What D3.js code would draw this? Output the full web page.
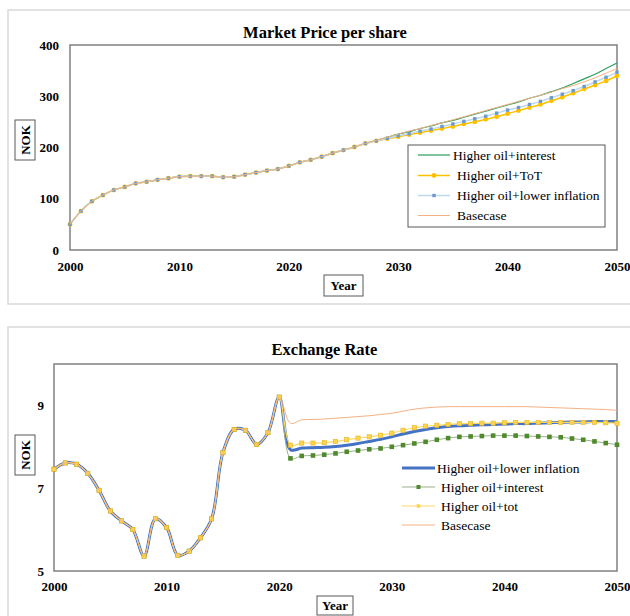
<!DOCTYPE html>
<html><head><meta charset="utf-8">
<script src="https://cdn.jsdelivr.net/npm/d3@7"></script>
<style>
body{margin:0;background:#fff;}
svg{display:block;}
svg text{font-family:"Liberation Serif","Times New Roman",Times,Tinos,"DejaVu Serif",serif !important;}
</style></head>
<body><svg id="c" width="630" height="616"></svg>
<script>
const years = [2000,2001,2002,2003,2004,2005,2006,2007,2008,2009,2010,2011,2012,2013,2014,2015,2016,2017,2018,2019,2020,2021,2022,2023,2024,2025,2026,2027,2028,2029,2030,2031,2032,2033,2034,2035,2036,2037,2038,2039,2040,2041,2042,2043,2044,2045,2046,2047,2048,2049,2050];
const xTicks = [2000,2010,2020,2030,2040,2050];

// Market price per share (NOK)
const priceHistory = [50,76,95,107,117,123,130,133,137,140,143,144,144,144,142,143,147,151,155,158,164,171,176,182,189,195,201,208];
const priceInterest = [214,220,226,231,237,242,248,253,259,265,271,277,283,289,296,302,309,316,325,334,343,354,365];
const priceToT = [213,217,221,225,229,233,237,241,246,250,255,260,266,272,278,284,291,298,306,314,322,330,340];
const priceLowerInfl = [213,218,223,227,232,236,241,246,251,256,261,267,273,278,284,290,297,304,311,319,328,337,347];
const priceBase = [214,220,226,232,237,243,248,254,260,266,272,278,284,290,296,302,308,315,321,328,336,345,354];
const priceTicks = [0,100,200,300,400];

// Exchange rate (NOK)
const fxHistory = [7.46,7.61,7.58,7.36,6.95,6.45,6.21,6.00,5.36,6.26,6.05,5.38,5.48,5.80,6.26,7.86,8.42,8.40,8.06,8.34,9.20];
const fxLowerInfl = [7.93,7.97,7.98,7.99,8.01,8.04,8.08,8.13,8.18,8.24,8.31,8.37,8.42,8.46,8.49,8.51,8.52,8.53,8.54,8.55,8.56,8.56,8.57,8.58,8.59,8.60,8.60,8.61,8.61,8.61];
const fxInterest = [7.72,7.78,7.79,7.81,7.84,7.88,7.91,7.94,7.96,8.00,8.04,8.08,8.12,8.17,8.21,8.24,8.25,8.26,8.27,8.27,8.27,8.26,8.25,8.24,8.23,8.20,8.17,8.13,8.09,8.05];
const fxToT = [8.04,8.09,8.09,8.10,8.13,8.17,8.21,8.24,8.28,8.33,8.40,8.46,8.50,8.52,8.54,8.56,8.56,8.57,8.57,8.58,8.59,8.59,8.59,8.59,8.59,8.59,8.59,8.59,8.58,8.57];
const fxBase = [8.57,8.65,8.66,8.67,8.69,8.71,8.73,8.75,8.78,8.81,8.86,8.91,8.94,8.96,8.97,8.97,8.97,8.97,8.97,8.97,8.97,8.97,8.96,8.95,8.94,8.93,8.92,8.91,8.90,8.88];
const fxTicks = [5,7,9];

const svg = d3.select("#c");

function panel(y, h){
  svg.append("rect").attr("x",8).attr("y",y).attr("width",640).attr("height",h)
    .attr("fill","#fff").attr("stroke","#d9d9d9").attr("stroke-width",1.5);
}
function boxedLabel(cx, cy, w, h, text, rotate){
  const g = svg.append("g").attr("transform",`translate(${cx},${cy})${rotate?" rotate(-90)":""}`);
  const bw = rotate? h : w, bh = rotate? w : h;
  g.append("rect").attr("x",-bw/2).attr("y",-bh/2).attr("width",bw).attr("height",bh)
    .attr("fill","#fff").attr("stroke","#595959").attr("stroke-width",1);
  g.append("text").attr("text-anchor","middle").attr("dy","0.35em")
    .attr("font-weight","bold").attr("font-size",13).text(text);
}
function seriesData(hist, proj){ return hist.concat(proj).map((v,i)=>({x:years[i], y:v})); }

function frameAxes(x, y, yTicks, padX, padY){
  const [l,r] = x.range(), [b,t] = y.range();
  const gx = svg.append("g").attr("transform",`translate(0,${b})`)
    .call(d3.axisBottom(x).tickValues(xTicks).tickFormat(d3.format("d")).tickSize(0).tickPadding(padX));
  gx.select(".domain").remove();
  gx.selectAll("text").attr("font-size",13).attr("font-weight","bold").attr("fill","#000");
  const gy = svg.append("g").attr("transform",`translate(${l},0)`)
    .call(d3.axisLeft(y).tickValues(yTicks).tickFormat(d3.format("d")).tickSize(0).tickPadding(padY));
  gy.select(".domain").remove();
  gy.selectAll("text").attr("font-size",13).attr("font-weight","bold").attr("fill","#000");
  svg.append("rect").attr("x",l).attr("y",t).attr("width",r-l).attr("height",b-t)
    .attr("fill","none").attr("stroke","#808080").attr("stroke-width",1.5);
}

// ---------- TOP CHART ----------
panel(10, 294);
svg.append("text").attr("x",325).attr("y",38).attr("text-anchor","middle")
  .attr("font-weight","bold").attr("font-size",16.5).text("Market Price per share");
const x1 = d3.scaleLinear().domain([2000,2050]).range([70,617]);
const y1 = d3.scaleLinear().domain([0,400]).range([250,45]);
frameAxes(x1, y1, priceTicks, 12, 11);
const line1 = d3.line().x(d=>x1(d.x)).y(d=>y1(d.y)).curve(d3.curveCatmullRom.alpha(0.5));

const topSeries = [
  {name:"Higher oil+interest", data:seriesData(priceHistory, priceInterest), color:"#2BA15F", w:1.2, marker:null},
  {name:"Higher oil+ToT", data:seriesData(priceHistory, priceToT), color:"#FFC000", w:1.5, marker:"circle", mcolor:"#FFC000"},
  {name:"Higher oil+lower inflation", data:seriesData(priceHistory, priceLowerInfl), color:"#BDD7EE", w:1.5, marker:"square", mcolor:"#6C9BC9"},
  {name:"Basecase", data:seriesData(priceHistory, priceBase), color:"#F4B183", w:1, marker:null}
];
topSeries.forEach(s=>{
  svg.append("path").datum(s.data).attr("d",line1).attr("fill","none").attr("stroke",s.color).attr("stroke-width",s.w);
  if(s.marker==="circle"){
    svg.append("g").selectAll("circle").data(s.data).join("circle")
      .attr("cx",d=>x1(d.x)).attr("cy",d=>y1(d.y)).attr("r",2.4).attr("fill",s.mcolor);
  } else if(s.marker==="square"){
    svg.append("g").selectAll("rect").data(s.data).join("rect")
      .attr("x",d=>x1(d.x)-1.7).attr("y",d=>y1(d.y)-1.7).attr("width",3.4).attr("height",3.4).attr("fill",s.mcolor);
  }
});
// legend top
svg.append("rect").attr("x",408).attr("y",145).attr("width",197).attr("height",82)
  .attr("fill","#fff").attr("stroke","#595959").attr("stroke-width",1);
const topLegY = [155,175.5,195.5,215.5];
const topLegTx = [453,457,457,457];
topSeries.forEach((s,i)=>{
  const yy = topLegY[i];
  svg.append("line").attr("x1",418).attr("x2",450).attr("y1",yy).attr("y2",yy).attr("stroke",s.color).attr("stroke-width",s.w);
  if(s.marker==="circle") svg.append("circle").attr("cx",434).attr("cy",yy).attr("r",2.4).attr("fill",s.mcolor);
  if(s.marker==="square") svg.append("rect").attr("x",432.3).attr("y",yy-1.7).attr("width",3.4).attr("height",3.4).attr("fill",s.mcolor);
  svg.append("text").attr("x",topLegTx[i]).attr("y",yy).attr("dy","0.35em").attr("font-size",13.5).text(s.name);
});
boxedLabel(25,140,20,40,"NOK",true);
boxedLabel(343.5,285.5,39,21,"Year",false);

// ---------- BOTTOM CHART ----------
panel(327, 300);
svg.append("text").attr("x",324.5).attr("y",354.5).attr("text-anchor","middle")
  .attr("font-weight","bold").attr("font-size",16.5).text("Exchange Rate");
const x2 = d3.scaleLinear().domain([2000,2050]).range([54,617]);
const y2 = d3.scaleLinear().domain([5,10]).range([571,364]);
frameAxes(x2, y2, fxTicks, 11, 10);
const line2 = d3.line().x(d=>x2(d.x)).y(d=>y2(d.y)).curve(d3.curveCatmullRom.alpha(0.5));

const botSeries = [
  {name:"Higher oil+lower inflation", data:seriesData(fxHistory, fxLowerInfl), color:"#4472C4", w:3, marker:null},
  {name:"Higher oil+interest", data:seriesData(fxHistory, fxInterest), color:"#9AAF8C", w:1, marker:"square", mcolor:"#4F8A2B", ms:4.6},
  {name:"Higher oil+tot", data:seriesData(fxHistory, fxToT), color:"#FFD966", w:1.2, marker:"square", mcolor:"#FFD54F", ms:4.2},
  {name:"Basecase", data:seriesData(fxHistory, fxBase), color:"#F4B183", w:1, marker:null}
];
botSeries.forEach(s=>{
  svg.append("path").datum(s.data).attr("d",line2).attr("fill","none").attr("stroke",s.color).attr("stroke-width",s.w);
  if(s.marker==="square"){
    svg.append("g").selectAll("rect").data(s.data).join("rect")
      .attr("x",d=>x2(d.x)-s.ms/2).attr("y",d=>y2(d.y)-s.ms/2).attr("width",s.ms).attr("height",s.ms)
      .attr("fill",s.mcolor).attr("stroke", s.name==="Higher oil+tot"?"#E6B422":"none").attr("stroke-width",0.6);
  }
});
const botLegY = [468,487,506,525];
const botLegTx = [437,441,441,441];
botSeries.forEach((s,i)=>{
  const yy = botLegY[i];
  svg.append("line").attr("x1",402).attr("x2",435).attr("y1",yy).attr("y2",yy).attr("stroke",s.color).attr("stroke-width",s.w);
  if(s.marker==="square") svg.append("rect").attr("x",418.5-s.ms/2+0.3).attr("y",yy-s.ms/2+0.3).attr("width",s.ms-0.6).attr("height",s.ms-0.6).attr("fill",s.mcolor);
  svg.append("text").attr("x",botLegTx[i]).attr("y",yy).attr("dy","0.35em").attr("font-size",13.5).text(s.name);
});
boxedLabel(25,455,20,40,"NOK",true);
boxedLabel(335,605.5,36,19,"Year",false);
</script></body></html>
